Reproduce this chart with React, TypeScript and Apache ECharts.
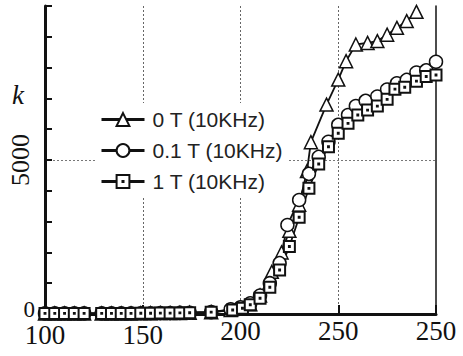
import React, { useEffect, useRef } from "react";
import * as echarts from "echarts";

const seriesNames = ["0 T (10KHz)", "0.1 T (10KHz)", "1 T (10KHz)"];

const x0T = [100, 105, 110, 115, 120, 129, 134, 139, 144, 149, 154, 159, 164, 169, 174, 185, 195, 200, 205, 210, 216, 221, 225, 230, 234, 236, 244, 250, 254, 259, 265, 270, 275, 280, 285, 290];
const k0T = [20, 20, 20, 20, 20, 20, 20, 20, 20, 25, 25, 30, 30, 35, 40, 60, 130, 200, 320, 600, 1370, 2000, 2700, 3550, 4640, 5580, 6800, 7610, 8210, 8750, 8800, 8860, 9070, 9290, 9510, 9810];

const x01T = [100, 105, 110, 115, 120, 129, 134, 139, 144, 149, 154, 159, 164, 169, 174, 185, 195, 200, 205, 210, 215, 220, 224, 230, 235, 240, 245, 250, 255, 259, 264, 270, 275, 280, 285, 290, 295, 300];
const k01T = [20, 20, 20, 20, 20, 20, 20, 20, 20, 25, 25, 30, 30, 35, 40, 60, 150, 220, 350, 600, 1000, 1650, 2890, 3700, 4550, 5100, 5590, 6140, 6460, 6750, 6920, 7060, 7290, 7490, 7600, 7840, 7910, 8190];

const x1T = [100, 105, 110, 115, 120, 129, 134, 139, 144, 149, 154, 159, 164, 169, 174, 185, 196, 201, 205, 210, 215, 220, 225, 230, 235, 240, 245, 250, 255, 260, 265, 270, 275, 279, 284, 290, 295, 300];
const k1T = [20, 20, 20, 20, 20, 20, 20, 20, 20, 25, 25, 30, 30, 35, 40, 60, 130, 185, 300, 510, 870, 1430, 2190, 3140, 4080, 4870, 5430, 5870, 6190, 6460, 6620, 6750, 6970, 7300, 7360, 7560, 7710, 7760];

const xTickValues = [100, 150, 200, 250, 300];
const xTickLabels = ["100", "150", "200", "250", "250"];
const yZeroLabel = "0";
const yMidLabel = "5000";
const yAxisName = "k";

const SQUARE_DOT = "path://M0,0H10V10H0Z M4.6,4.6H5.4V5.4H4.6Z";

export default function App() {
  const ref = useRef<HTMLDivElement>(null);
  useEffect(() => {
    if (!ref.current) return;
    const chart = echarts.init(ref.current, null, { renderer: "svg" });
    const zip = (xs: number[], ys: number[]) => xs.map((x, i) => [x, ys[i]]);
    const serif = "'Liberation Serif', 'Times New Roman', serif";
    const mk = (name: string, data: number[][], symbol: string, size: number, bw: number) => ({
      name,
      type: "line",
      data,
      symbol,
      symbolSize: size,
      showAllSymbol: true,
      lineStyle: { color: "#111", width: 1.8 },
      itemStyle: { color: "#fff", borderColor: "#111", borderWidth: bw },
      emphasis: { disabled: true },
    });
    chart.setOption({
      animation: false,
      backgroundColor: "#fff",
      grid: { left: 45, right: 27, top: 6, bottom: 42, containLabel: false },
      legend: {
        data: seriesNames,
        orient: "vertical",
        left: 97,
        top: 103,
        itemWidth: 43,
        itemHeight: 16,
        itemGap: 10,
        padding: [6, 4, 6, 3],
        backgroundColor: "#fff",
        lineStyle: { width: 3 },
        textStyle: { fontFamily: "'Liberation Sans', Arial, sans-serif", fontSize: 21, color: "#222", padding: [0, 0, 0, 3] },
      },
      xAxis: [
        {
          type: "value",
          min: 100,
          max: 300,
          interval: 50,
          position: "bottom",
          axisLine: { lineStyle: { color: "#111", width: 2 } },
          axisTick: { inside: true, length: 9, lineStyle: { color: "#111", width: 2 } },
          axisLabel: {
            margin: 7,
            formatter: (v: number) => {
              const i = xTickValues.indexOf(v);
              const t = i >= 0 ? xTickLabels[i] : "";
              return v <= 150 ? `{lo|${t}}` : `{hi|${t}}`;
            },
            rich: {
              lo: { fontFamily: serif, fontSize: 27, lineHeight: 20, color: "#111", padding: [8, 0, 0, 0] },
              hi: { fontFamily: serif, fontSize: 27, lineHeight: 20, color: "#111" },
            },
          },
          splitLine: { show: true, showMinLine: false, showMaxLine: false, lineStyle: { color: "#666", type: [2, 2], width: 1 } },
        },
        {
          type: "value",
          min: 100,
          max: 300,
          position: "top",
          axisLine: { show: true, lineStyle: { color: "#111", width: 3 } },
          axisTick: { show: false },
          axisLabel: { show: false },
          splitLine: { show: false },
        },
      ],
      yAxis: [
        {
          type: "value",
          min: 0,
          max: 10000,
          interval: 1000,
          position: "left",
          axisLine: { show: true, lineStyle: { color: "#111", width: 3 } },
          axisTick: { show: true, inside: true, length: 7, lineStyle: { color: "#111", width: 2 } },
          axisLabel: {
            margin: 10,
            fontFamily: serif,
            fontSize: 23,
            lineHeight: 10,
            verticalAlign: "bottom",
            color: "#111",
            formatter: (v: number) => (v === 0 ? yZeroLabel : ""),
          },
          splitLine: { show: false },
        },
        {
          type: "value",
          min: 0,
          max: 10000,
          position: "right",
          axisLine: { show: true, lineStyle: { color: "#111", width: 1.5 } },
          axisTick: { show: false },
          axisLabel: { show: false },
          splitLine: { show: false },
        },
        {
          type: "value",
          min: 0,
          max: 10000,
          interval: 5000,
          position: "left",
          offset: 0,
          axisLine: { show: false },
          axisTick: { show: false },
          axisLabel: {
            rotate: 90,
            margin: 12,
            fontFamily: serif,
            fontSize: 26,
            color: "#111",
            formatter: (v: number) => (v === 5000 ? yMidLabel : ""),
          },
          splitLine: { show: true, showMinLine: false, showMaxLine: false, lineStyle: { color: "#777", type: [2, 2], width: 1 } },
        },
      ],
      graphic: [
        {
          type: "text",
          left: 12,
          top: 81,
          style: { text: yAxisName, fontFamily: serif, fontStyle: "italic", fontSize: 27, fill: "#111" },
        },
      ],
      series: [
        mk(seriesNames[0], zip(x0T, k0T), "triangle", 13, 1.5),
        mk(seriesNames[1], zip(x01T, k01T), "circle", 13, 1.5),
        mk(seriesNames[2], zip(x1T, k1T), SQUARE_DOT, 11, 2),
      ],
    });
    return () => chart.dispose();
  }, []);
  return <div ref={ref} style={{ width: 463, height: 356, position: "absolute", left: 0, top: 0 }} />;
}
